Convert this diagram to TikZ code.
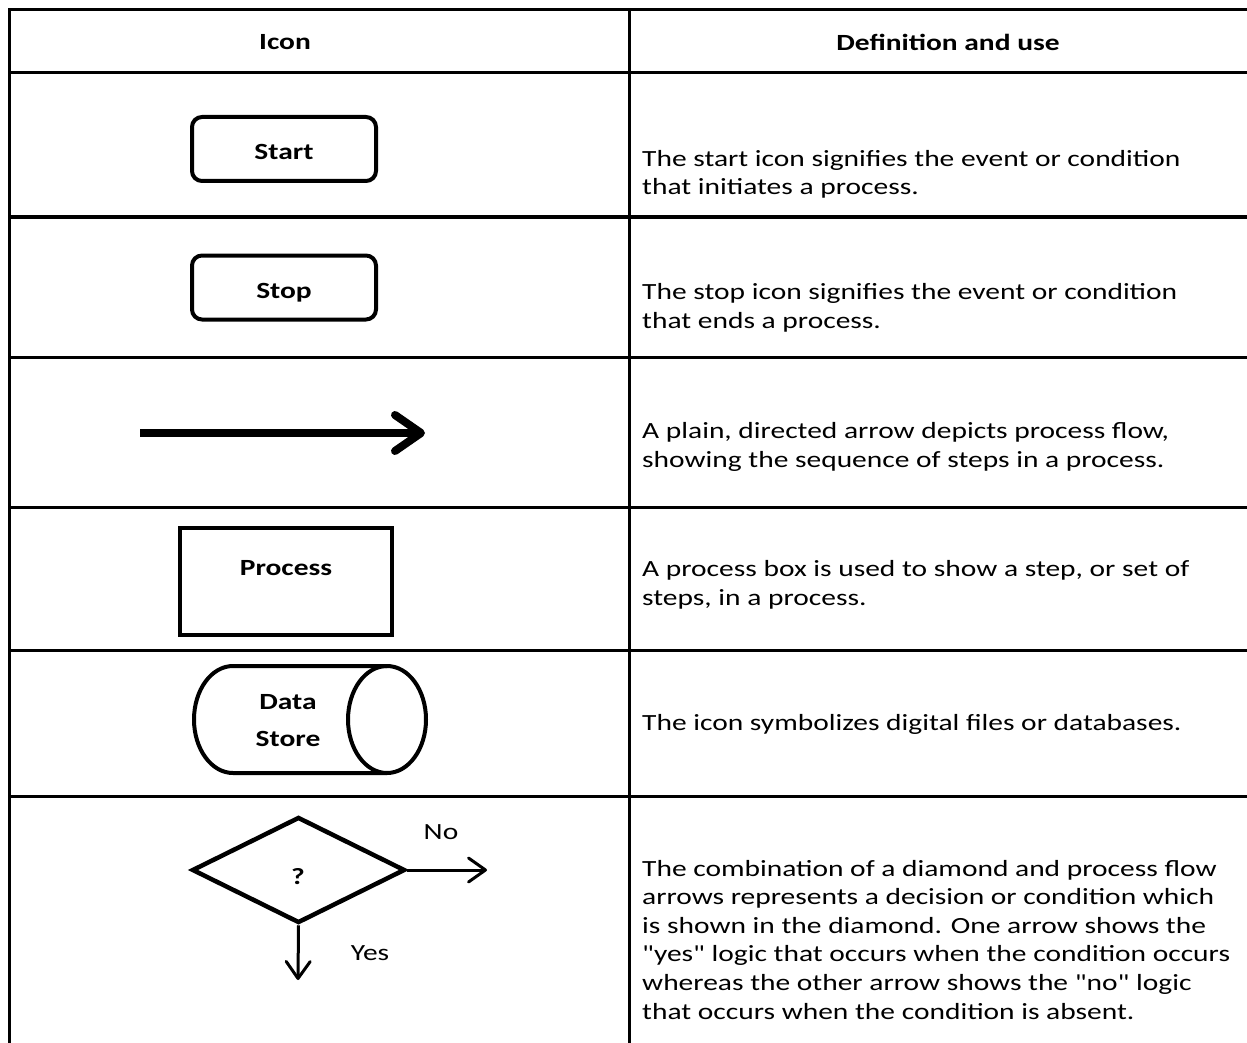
\documentclass[tikz,border=0pt]{standalone}
\usepackage{fontspec}
\setmainfont{Carlito}
% wide-set Carlito without TeX quote ligatures, so " stays straight
\newfontfamily\tablefont{Carlito}[FakeStretch=1.27]
\usetikzlibrary{arrows.meta,shapes.geometric}
\begin{document}
\begin{tikzpicture}[x=1pt,y=-1pt,
  rule/.style={line width=3pt, line cap=rect},
  headtxt/.style={font=\tablefont\fontsize{23.2}{28.6}\selectfont\bfseries, inner sep=0},
  bodytxt/.style={font=\tablefont\fontsize{23.2}{28.6}\selectfont, anchor=base west, align=left, inner sep=0},
  iconlbl/.style={font=\tablefont\fontsize{23.2}{37}\selectfont\bfseries, inner sep=0},
  plainlbl/.style={font=\tablefont\fontsize{23.2}{28.6}\selectfont, inner sep=0},
  termbox/.style={draw, line width=4pt, rounded corners=10pt, minimum width=184pt, minimum height=64pt, inner sep=0, text height=22pt, text depth=0pt},
  procbox/.style={draw, line width=4.5pt, minimum width=212pt, minimum height=107pt, inner sep=0},
  decision/.style={draw, diamond, line width=4.5pt, minimum width=213pt, minimum height=106pt, inner sep=0},
  flow/.style={line width=3pt, -{Straight Barb[length=17pt, width=24pt, round]}},
  bigflow/.style={line width=8pt, -{Straight Barb[length=26pt, width=36pt, round]}},
]
\useasboundingbox (0,0) rectangle (1247,1043);
\fill[white] (0,0) rectangle (1247,1043);

% table rules
\foreach \yy in {10,73,217,357,507,650,796}
  \draw[rule] (9.5,\yy) -- (1250,\yy);
\draw[rule] (9.5,10) -- (9.5,1046);
\draw[rule] (629,10) -- (629,1046);

% header
\node[headtxt] (hicon) at (285,42) {Icon};
\node[headtxt] (hdef) at (948,42) {Definition and use};

% start / stop terminators
\node[termbox, iconlbl] (start) at (284,149) {Start};
\node[termbox, iconlbl] (stop) at (284,287.5) {Stop};

% process flow arrow
\coordinate (flowa) at (140,433);
\coordinate (flowb) at (425,433);
\draw[bigflow] (flowa) -- (flowb);

% process box
\node[procbox] (proc) at (286,581.5) {};
\node[iconlbl] (proclbl) at (286,568) {Process};

% data store (horizontal cylinder)
\draw[line width=4pt] (233,666) -- (387,666)
  (387,773) -- (233,773) arc[start angle=270, end angle=90, x radius=39pt, y radius=53.5pt];
\draw[line width=4pt] (387,719.5) ellipse [x radius=39pt, y radius=53.5pt];
\node[iconlbl, align=center] (store) at (288,720.5) {Data\\Store};

% decision
\node[decision] (dec) at (298.5,870) {};
\node[iconlbl] (qm) at (298,877) {?};
\coordinate (noend) at (487,870);
\coordinate (yesend) at (298,980);
\draw[flow] (dec.east) -- (noend);
\draw[flow] (dec.south) -- (yesend);
\node[plainlbl] (nolbl) at (441,832) {No};
\node[plainlbl] (yeslbl) at (370,953) {Yes};

% definitions (anchored at the baseline of the last line)
\node[bodytxt] (d1) at (642,195) {The start icon signifies the event or condition\\that initiates a process.};
\node[bodytxt] (d2) at (642,328) {The stop icon signifies the event or condition\\that ends a process.};
\node[bodytxt] (d3) at (642,467) {A plain, directed arrow depicts process flow,\\showing the sequence of steps in a process.};
\node[bodytxt] (d4) at (642,605) {A process box is used to show a step, or set of\\steps, in a process.};
\node[bodytxt] (d5) at (642,730) {The icon symbolizes digital files or databases.};
\node[bodytxt] (d6) at (642,1019) {The combination of a diamond and process flow\\arrows represents a decision or condition which\\is shown in the diamond. One arrow shows the\\"yes" logic that occurs when the condition occurs\\whereas the other arrow shows the "no" logic\\that occurs when the condition is absent.};
\end{tikzpicture}
\end{document}
